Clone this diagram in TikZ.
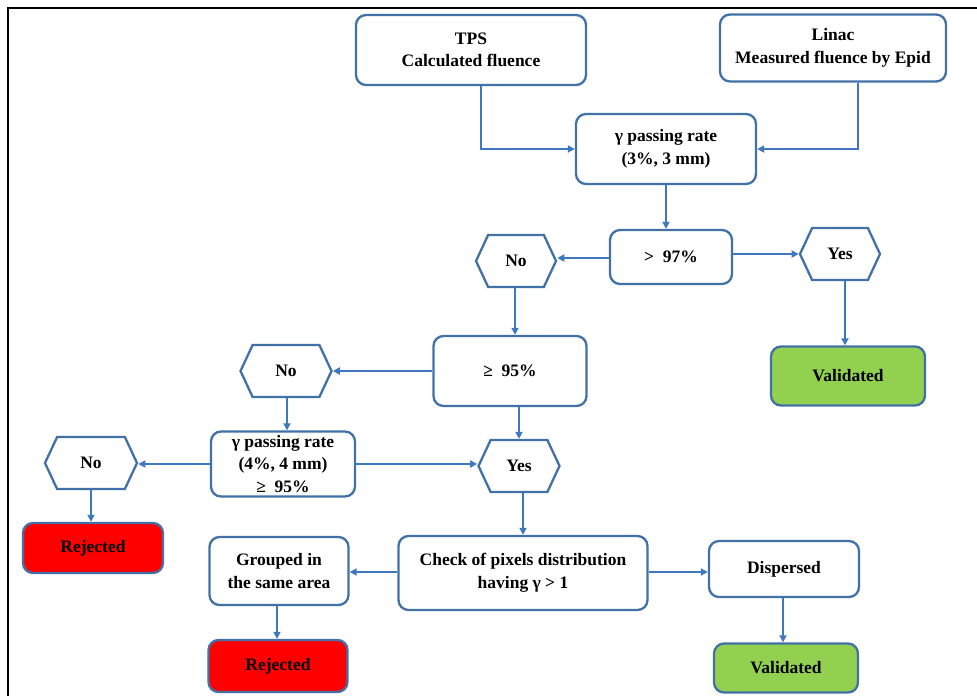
\documentclass[tikz,border=0pt]{standalone}
\usepackage{fontspec}
\setmainfont{Liberation Serif}
\usetikzlibrary{arrows.meta,shapes.symbols,calc}
\definecolor{boxblue}{RGB}{65,113,166}
\definecolor{arrblue}{RGB}{62,120,190}
\definecolor{okgreen}{RGB}{146,208,80}
\begin{document}
\begin{tikzpicture}[x=1pt,y=-1pt,
  every node/.style={font=\fontsize{17.5}{22.5}\selectfont\bfseries, align=center, inner sep=0pt},
  box/.style={draw=boxblue, line width=2.3pt, rounded corners=10pt, fill=white},
  hexa/.style={draw=boxblue, line width=2.3pt, shape=signal, signal to=east and west, signal pointer angle=130, fill=white},
  conn/.style={draw=arrblue, line width=2pt, -{Triangle[length=7pt,width=7pt]}}
]
\useasboundingbox (0,0) rectangle (977,696);
\draw[black, line width=2pt] (8,696) -- (8,8) -- (977,8);

\node[box, minimum width=230pt, minimum height=70pt] (tps) at (471,50) {TPS\\Calculated fluence};
\node[box, minimum width=226pt, minimum height=67pt] (linac) at (833,48) {Linac\\Measured fluence by Epid};
\node[box, minimum width=180pt, minimum height=70pt] (g3) at (666,149) {γ passing rate\\(3\%, 3 mm)};
\node[box, minimum width=122pt, minimum height=54pt] (p97) at (671,257) {>\ \ 97\%};
\node[hexa, minimum width=80pt, minimum height=52pt] (no1) at (516,261) {No};
\node[hexa, minimum width=80pt, minimum height=52pt] (yes1) at (840,254) {Yes};
\node[box, fill=okgreen, minimum width=154pt, minimum height=59pt] (val1) at (848,376) {Validated};
\node[box, minimum width=153pt, minimum height=70pt] (p95) at (510,371) {≥\ \ 95\%};
\node[hexa, minimum width=91pt, minimum height=52pt] (no2) at (286,371) {No};
\node[box, minimum width=144pt, minimum height=65pt] (g4) at (283,464) {γ passing rate\\(4\%, 4 mm)\\≥\ \ 95\%};
\node[hexa, minimum width=92pt, minimum height=52pt] (no3) at (91,463) {No};
\node[hexa, minimum width=81pt, minimum height=52pt] (yes2) at (519,466) {Yes};
\node[box, fill=red, minimum width=140pt, minimum height=50pt] (rej1) at (93,548) {Rejected};
\node[box, minimum width=249pt, minimum height=74pt] (chk) at (523,573) {Check of pixels distribution\\having γ > 1};
\node[box, minimum width=139pt, minimum height=68pt] (grp) at (279,571) {Grouped in\\the same area};
\node[box, fill=red, minimum width=139pt, minimum height=52pt] (rej2) at (278,666) {Rejected};
\node[box, minimum width=150pt, minimum height=56pt] (dis) at (784,569) {Dispersed};
\node[box, fill=okgreen, minimum width=144pt, minimum height=49pt] (val2) at (786,668) {Validated};

\draw[conn] (tps.south -| 481,0) |- (g3.west);
\draw[conn] (linac.south -| 858,0) |- (g3.east);
\draw[conn] (g3.south) -- (p97.north -| g3.south);
\draw[conn] (p97.west |- 0,258) -- (no1.east |- 0,258);
\draw[conn] (p97.east |- 0,254) -- (yes1.west);
\draw[conn] (yes1.south -| 845,0) -- (val1.north -| 845,0);
\draw[conn] (no1.south -| 515,0) -- (p95.north -| 515,0);
\draw[conn] (p95.west) -- (no2.east);
\draw[conn] (p95.south -| 519,0) -- (yes2.north -| 519,0);
\draw[conn] (no2.south -| 287,0) -- (g4.north -| 287,0);
\draw[conn] (g4.west) -- (no3.east |- g4.west);
\draw[conn] (g4.east) -- (yes2.west |- g4.east);
\draw[conn] (no3.south -| 91,0) -- (rej1.north -| 91,0);
\draw[conn] (yes2.south -| 523,0) -- (chk.north -| 523,0);
\draw[conn] (chk.west |- 0,572) -- (grp.east |- 0,572);
\draw[conn] (chk.east |- 0,572) -- (dis.west |- 0,572);
\draw[conn] (grp.south -| 277,0) -- (rej2.north -| 277,0);
\draw[conn] (dis.south -| 783,0) -- (val2.north -| 783,0);
\end{tikzpicture}
\end{document}
